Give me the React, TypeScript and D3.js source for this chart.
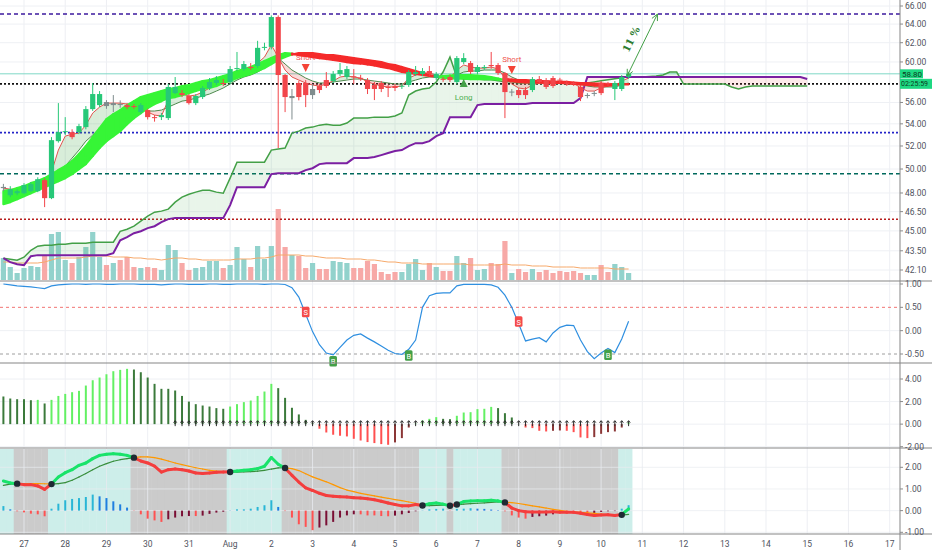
import React from "react";
import * as d3 from "d3";

// 4h candles, Jul 26 12:00 .. Aug 10 16:00
const dayLabels = ["27", "28", "29", "30", "31", "Aug", "2", "3", "4", "5", "6", "7", "8", "9", "10", "11", "12", "13", "14", "15", "16", "17"];
const priceTicks = [66, 64, 62, 60, 56, 54, 52, 50, 48, 46.5, 45, 43.5, 42.1];
const oscTicks = [1, 0.5, 0, -0.5];
const histTicks = [4, 2, 0, -2];
const macdTicks = [2, 1, 0, -1];

const opens = [
  48.4, 47.82, 47.98, 47.98, 48.15, 48.15, 49.06, 47.58, 52.43, 53.24,
  53.24, 53.24, 53.7, 55.37, 55.75, 56.04, 55.75, 55.85, 55.75, 55.66,
  55.09, 55.28, 54.62, 54.62, 54.53, 56.9, 56.9, 56.62, 55.94, 56.52,
  57.4, 57.89, 57.89, 57.99, 59.28, 59.28, 59.49, 59.59, 61.46, 61.56,
  64.77, 58.68, 56.42, 57.89, 57.89, 56.71, 57.59, 58.18, 58.08, 58.78,
  58.48, 58.55, 58.4, 58.18, 57.69, 57.89, 57.5, 57.59, 57.55, 57.69,
  58.78, 58.78, 59.08, 58.38, 58.3, 58.48, 57.99, 59.99, 59.89, 58.98,
  59.38, 59.69, 59.69, 58.88, 57.0, 57.2, 57.2, 57.2, 58.28, 58.18,
  58.38, 58.22, 57.92, 57.9, 57.5, 56.7, 56.88, 57.89, 57.9, 57.3,
  57.3, 58.5,
];
const highs = [
  48.75, 48.56, 48.31, 48.81, 48.9, 49.3, 49.22, 52.79, 55.94, 54.62,
  53.5, 54.0, 55.66, 57.89, 57.1, 56.23, 56.71, 56.2, 55.94, 55.85,
  55.94, 55.4, 54.81, 55.0, 57.8, 58.48, 57.2, 56.81, 56.81, 57.59,
  58.38, 58.58, 58.28, 59.59, 61.03, 60.1, 59.89, 62.2, 62.0, 64.95,
  64.95, 58.78, 57.3, 58.1, 58.18, 57.79, 57.79, 58.98, 59.08, 59.89,
  59.59, 59.28, 58.7, 58.38, 57.99, 58.08, 57.69, 57.79, 57.79, 59.18,
  59.59, 59.38, 59.59, 58.98, 58.48, 58.68, 60.61, 60.91, 60.1, 59.69,
  59.69, 61.03, 59.89, 58.98, 57.3, 57.4, 57.5, 58.48, 58.58, 58.38,
  58.58, 58.4, 58.1, 58.0, 57.69, 56.9, 57.1, 58.08, 58.0, 58.08,
  58.68, 59.0,
];
const lows = [
  48.15, 47.66, 47.82, 47.9, 48.07, 48.07, 46.86, 47.5, 52.3, 52.97,
  52.6, 53.06, 53.5, 55.2, 55.56, 55.4, 55.09, 55.5, 55.37, 55.4,
  54.9, 54.4, 54.2, 54.35, 54.35, 56.81, 56.52, 55.8, 55.75, 56.33,
  57.2, 57.69, 57.59, 57.79, 59.08, 59.1, 59.18, 59.4, 61.2, 61.3,
  51.82, 55.09, 54.4, 56.2, 55.56, 56.33, 56.9, 57.4, 57.89, 58.58,
  58.28, 57.79, 58.1, 56.81, 56.23, 57.0, 56.52, 57.1, 57.3, 57.5,
  58.58, 58.58, 58.58, 58.18, 58.0, 57.99, 57.79, 59.79, 58.78, 58.78,
  59.18, 59.3, 58.68, 54.53, 56.6, 56.42, 56.33, 57.0, 57.79, 57.3,
  57.4, 57.9, 57.6, 57.6, 56.13, 56.4, 56.6, 56.71, 57.6, 56.23,
  57.1, 58.3,
];
const closes = [
  48.5, 48.31, 48.15, 48.65, 48.73, 49.14, 47.58, 52.52, 53.24, 53.33,
  52.79, 53.79, 55.37, 56.81, 56.81, 55.66, 55.94, 55.8, 55.56, 55.6,
  55.75, 54.62, 54.53, 54.81, 57.5, 57.5, 56.71, 55.94, 56.62, 57.4,
  57.99, 58.18, 57.79, 59.28, 59.38, 59.79, 59.38, 61.46, 61.56, 64.77,
  58.68, 56.52, 56.62, 56.52, 56.71, 57.3, 57.2, 57.59, 58.78, 59.18,
  59.28, 58.48, 58.36, 57.3, 57.3, 57.3, 57.4, 57.4, 57.62, 58.98,
  58.98, 59.08, 58.78, 58.78, 58.26, 58.18, 60.4, 60.4, 58.98, 59.49,
  59.49, 59.64, 58.88, 57.0, 57.05, 56.71, 56.71, 58.28, 57.99, 57.5,
  57.59, 58.15, 57.87, 57.82, 56.52, 56.72, 56.92, 56.9, 57.82, 57.89,
  58.48, 58.8,
];
const neutralCandles = [0, 15, 16, 17, 42, 45, 74, 85, 86];

const volumes = [
  22, 13, 7, 12, 14, 13, 24, 46, 48, 20,
  17, 23, 33, 48, 23, 15, 17, 20, 23, 13,
  12, 13, 12, 10, 35, 30, 17, 10, 12, 13,
  19, 19, 12, 15, 33, 21, 13, 34, 21, 34,
  71, 33, 25, 24, 12, 17, 11, 11, 19, 18,
  17, 12, 12, 19, 16, 8, 6, 8, 8, 16,
  21, 10, 17, 13, 9, 9, 24, 17, 22, 10,
  11, 17, 16, 39, 7, 11, 8, 11, 8, 10,
  7, 9, 8, 9, 7, 5, 5, 15, 8, 16,
  13, 7,
];
const volumeMa = [
  18, 18, 17, 17, 17, 17, 18, 20, 22, 22,
  22, 22, 23, 24, 24, 24, 23, 23, 23, 22,
  22, 21, 21, 20, 21, 22, 22, 21, 21, 20,
  20, 20, 20, 20, 21, 21, 21, 22, 22, 23,
  25, 25, 25, 25, 24, 24, 23, 22, 22, 22,
  21, 21, 21, 20, 20, 19, 18, 18, 17, 17,
  17, 16, 16, 16, 16, 16, 16, 16, 15, 15,
  15, 15, 15, 16, 15, 15, 15, 14, 14, 14,
  13, 13, 13, 13, 12, 12, 12, 12, 12, 11,
  11, 11,
];

// thick ribbon (two moving averages)
const ribbonFast = [
  48.15, 48.23, 48.4, 48.56, 48.81, 48.98, 49.23, 49.57, 49.91, 50.24,
  50.68, 51.29, 51.99, 52.79, 53.61, 54.44, 54.9, 55.28, 55.75, 56.13,
  56.52, 56.71, 56.9, 57.1, 57.3, 57.4, 57.59, 57.69, 57.89, 58.08,
  58.18, 58.38, 58.58, 58.78, 59.08, 59.28, 59.49, 59.79, 60.1, 60.4,
  60.71, 60.91, 60.86, 60.71, 60.61, 60.5, 60.4, 60.3, 60.2, 60.1,
  59.99, 59.89, 59.84, 59.74, 59.64, 59.49, 59.38, 59.18, 58.98, 58.88,
  58.78, 58.68, 58.58, 58.48, 58.58, 58.63, 58.68, 58.68, 58.68, 58.63,
  58.58, 58.48, 58.33, 58.18, 58.08, 57.99, 57.94, 57.94, 57.94, 57.89,
  57.89, 57.89, 57.84, 57.79, 57.74, 57.69, 57.64, 57.64, 57.64, 57.69,
  57.74, 57.76,
];
const ribbonSlow = [
  47.1, 47.26, 47.5, 47.74, 47.98, 48.23, 48.48, 48.73, 48.98, 49.23,
  49.57, 49.99, 50.42, 51.12, 51.82, 52.43, 52.88, 53.33, 53.97, 54.53,
  55.0, 55.47, 55.85, 56.13, 56.42, 56.52, 56.71, 56.9, 57.1, 57.3,
  57.4, 57.59, 57.89, 58.08, 58.38, 58.58, 58.78, 59.08, 59.38, 59.79,
  60.2, 60.5, 60.76, 60.91, 60.91, 60.91, 60.81, 60.71, 60.71, 60.61,
  60.5, 60.4, 60.3, 60.2, 60.1, 59.99, 59.79, 59.69, 59.49, 59.28,
  59.08, 58.88, 58.68, 58.53, 58.38, 58.38, 58.33, 58.33, 58.28, 58.28,
  58.28, 58.28, 58.23, 58.28, 58.23, 58.18, 58.18, 58.13, 58.08, 58.08,
  58.03, 57.99, 57.99, 57.94, 57.89, 57.89, 57.84, 57.84, 57.79, 57.79,
  57.79, 57.79,
];

// thin moving averages hugging the candles
const emaFast = [
  48.4, 48.31, 48.31, 48.48, 48.56, 48.81, 48.65, 49.74, 51.64, 52.88,
  53.06, 53.15, 53.88, 55.0, 55.56, 55.94, 55.94, 55.94, 55.85, 55.75,
  55.47, 55.09, 54.81, 54.72, 56.23, 56.9, 56.81, 56.62, 56.71, 57.0,
  57.4, 57.69, 57.89, 58.48, 58.78, 59.08, 59.18, 59.89, 60.5, 61.76,
  60.5, 59.18, 58.48, 58.18, 57.89, 57.69, 57.59, 57.79, 58.08, 58.48,
  58.58, 58.48, 58.38, 57.99, 57.79, 57.59, 57.5, 57.5, 57.59, 58.38,
  58.68, 58.88, 58.88, 58.68, 58.48, 58.38, 59.18, 59.69, 59.49, 59.38,
  59.38, 59.49, 59.28, 58.38, 57.79, 57.4, 57.3, 57.69, 57.89, 57.79,
  57.89, 57.99, 57.99, 57.89, 57.4, 57.1, 57.1, 57.4, 57.59, 57.59,
  58.08, 58.38,
];
const emaSlow = [
  48.23, 48.23, 48.23, 48.31, 48.4, 48.48, 48.56, 48.9, 49.48, 50.24,
  50.94, 51.64, 52.43, 52.97, 53.61, 54.16, 54.62, 55.0, 55.19, 55.28,
  55.28, 55.19, 55.19, 55.28, 55.56, 55.85, 56.13, 56.23, 56.42, 56.62,
  56.81, 57.1, 57.4, 57.79, 58.18, 58.48, 58.68, 58.98, 59.38, 60.2,
  60.4, 59.79, 59.18, 58.78, 58.38, 58.08, 57.89, 57.89, 57.99, 58.08,
  58.18, 58.28, 58.28, 58.18, 58.08, 57.99, 57.89, 57.79, 57.79, 57.99,
  58.18, 58.38, 58.48, 58.48, 58.48, 58.48, 58.68, 58.98, 59.08, 59.08,
  59.18, 59.18, 59.18, 58.88, 58.48, 58.18, 57.99, 57.89, 57.89, 57.89,
  57.89, 57.89, 57.89, 57.89, 57.79, 57.59, 57.5, 57.5, 57.5, 57.5,
  57.69, 57.89,
];

// cloud spans, already shifted 26 bars forward (118 points)
const spanA = [
  42.96, 42.88, 42.81, 43.03, 43.54, 43.84, 43.92, 43.92, 43.99, 43.99,
  44.07, 44.07, 44.07, 44.14, 44.14, 44.14, 44.14, 44.97, 45.13, 45.36,
  45.75, 46.14, 46.46, 46.54, 46.7, 47.26, 47.66, 47.9, 48.07, 48.23,
  48.23, 48.07, 47.98, 49.23, 50.59, 50.59, 50.59, 50.59, 50.59, 51.64,
  51.73, 51.82, 53.15, 53.33, 53.61, 53.7, 53.88, 53.97, 53.88, 53.88,
  54.07, 54.53, 54.53, 54.53, 54.62, 54.62, 54.62, 54.72, 55.0, 56.71,
  57.1, 57.3, 57.4, 57.99, 58.98, 60.5, 58.48, 58.28, 58.28, 58.28,
  58.2, 58.2, 58.1, 58.0, 58.0, 57.9, 57.9, 57.9, 57.95, 57.95,
  57.9, 57.9, 57.85, 57.85, 57.85, 57.9, 58.0, 58.1, 58.2, 58.3,
  58.4, 58.5, 58.48, 58.48, 58.53, 58.58, 58.68, 58.98, 58.98, 57.79,
  57.79, 57.79, 57.79, 57.79, 57.79, 57.79, 57.5, 57.3, 57.5, 57.59,
  57.59, 57.59, 57.59, 57.59, 57.59, 57.59, 57.59, 57.59,
];
const spanB = [
  42.96, 42.67, 42.52, 42.45, 43.1, 43.18, 43.18, 43.18, 43.18, 43.18,
  43.18, 43.18, 43.18, 43.18, 43.18, 43.18, 43.32, 44.29, 44.52, 44.82,
  44.97, 45.21, 45.36, 45.67, 45.91, 45.99, 45.99, 45.99, 45.99, 45.99,
  45.99, 45.99, 45.99, 47.02, 48.48, 48.48, 48.48, 48.48, 48.48, 49.57,
  49.65, 49.65, 49.65, 49.65, 49.91, 50.07, 50.42, 50.5, 50.5, 50.5,
  50.5, 50.94, 50.94, 50.94, 51.03, 51.2, 51.38, 51.55, 51.64, 51.99,
  52.25, 52.25, 52.43, 52.88, 53.15, 54.62, 54.62, 54.62, 54.62, 55.75,
  55.85, 55.85, 55.85, 55.85, 55.85, 55.85, 55.85, 55.94, 55.94, 55.94,
  55.94, 55.94, 55.94, 55.94, 56.42, 58.48, 58.48, 58.48, 58.48, 58.48,
  58.48, 58.48, 58.48, 58.48, 58.48, 58.48, 58.48, 58.48, 58.48, 58.48,
  58.48, 58.48, 58.48, 58.48, 58.48, 58.48, 58.48, 58.48, 58.48, 58.48,
  58.48, 58.48, 58.48, 58.48, 58.48, 58.48, 58.48, 58.28,
];

// horizontal levels
const levelPrices = [65.1, 57.8, 53.2, 49.6, 45.9];
const levelColors = ["#3d1a9e", "#111111", "#2424c8", "#00695c", "#b71c1c"];
const levelDashes = ["4,3", "2,2", "2,2", "4,3", "2,2"];
const lastPrice = 58.8;
const countdown = "02:25:59";

const shortSignals = [44, 74];
const shortPrices = [59.28, 59.08];
const longSignals = [67];
const longPrices = [57.89];
const moveFrom = { i: 90.8, p: 58.6 };
const moveTo = { i: 95.2, p: 65.1 };
const moveLabel = "11 %";

// oscillator (range -0.5..1)
const oscValues = [
  1.0, 0.98, 0.96, 0.95, 0.94, 0.92, 0.9, 0.96, 0.98, 0.99,
  1.0, 1.0, 0.99, 1.0, 1.0, 0.99, 0.99, 1.0, 1.0, 1.0,
  0.99, 0.99, 0.99, 0.98, 0.99, 1.0, 1.0, 0.99, 0.99, 0.99,
  1.0, 1.0, 0.99, 0.99, 1.0, 1.0, 1.0, 1.0, 0.99, 1.0,
  1.0, 0.99, 0.92, 0.72, 0.35, -0.02, -0.3, -0.48, -0.52, -0.36,
  -0.2, -0.1, -0.07, -0.16, -0.24, -0.33, -0.42, -0.49, -0.51, -0.4,
  -0.2, 0.5, 0.75, 0.8, 0.81, 0.81, 0.96, 0.99, 0.99, 0.99,
  0.99, 0.98, 0.93, 0.76, 0.5, 0.15, -0.22, -0.18, -0.15, -0.24,
  -0.05, 0.07, 0.12, 0.11, -0.2, -0.45, -0.6, -0.48, -0.38, -0.47,
  -0.18, 0.2,
];
const sellMarks = [44, 75];
const buyMarks = [48, 59, 88];

// momentum histogram
const momentum = [
  2.45, 2.27, 2.21, 2.21, 2.12, 2.15, 1.83, 2.15, 2.5, 2.68,
  2.83, 2.95, 3.42, 3.89, 4.13, 4.42, 4.69, 4.81, 4.9, 4.84,
  4.6, 4.13, 3.57, 3.13, 3.13, 2.98, 2.5, 2.0, 1.77, 1.65,
  1.56, 1.42, 1.36, 1.56, 1.77, 1.95, 2.09, 2.5, 2.89, 3.57,
  3.19, 2.33, 1.45, 0.86, 0.38, 0.09, -0.41, -0.74, -0.94, -1.03,
  -1.09, -1.3, -1.45, -1.59, -1.68, -1.77, -1.83, -1.62, -1.24, -0.3,
  0.05, 0.32, 0.47, 0.62, 0.47, 0.44, 0.74, 1.03, 1.06, 1.33,
  1.36, 1.53, 1.42, 0.97, 0.59, 0.02, -0.3, -0.35, -0.59, -0.65,
  -0.59, -0.56, -0.59, -0.71, -1.18, -1.24, -1.15, -0.86, -0.71, -0.65,
  -0.3, 0.15,
];

// MACD
const macdLine = [
  1.37, 1.28, 1.24, 1.2, 1.2, 1.14, 0.98, 1.23, 1.55, 1.75,
  1.89, 2.09, 2.2, 2.4, 2.55, 2.6, 2.63, 2.6, 2.55, 2.44,
  2.29, 2.2, 2.05, 1.78, 1.89, 1.92, 1.89, 1.83, 1.74, 1.71,
  1.74, 1.77, 1.78, 1.79, 1.83, 1.86, 1.89, 1.94, 2.05, 2.45,
  2.14, 1.96, 1.63, 1.32, 1.05, 0.93, 0.8, 0.7, 0.66, 0.64,
  0.63, 0.6, 0.58, 0.55, 0.5, 0.43, 0.35, 0.28, 0.22, 0.22,
  0.28, 0.24, 0.32, 0.35, 0.3, 0.22, 0.29, 0.42, 0.45, 0.46,
  0.46, 0.48, 0.45, 0.37, 0.12, 0.0, -0.05, -0.06, -0.06, -0.06,
  -0.05, -0.07, -0.08, -0.08, -0.12, -0.18, -0.22, -0.2, -0.19, -0.22,
  -0.18, 0.08,
];
const signalLine = [
  1.17, 1.22, 1.25, 1.25, 1.25, 1.25, 1.24, 1.22, 1.25, 1.29,
  1.4, 1.55, 1.71, 1.89, 2.05, 2.17, 2.28, 2.35, 2.4, 2.45,
  2.48, 2.48, 2.45, 2.38, 2.29, 2.2, 2.12, 2.05, 1.98, 1.92,
  1.86, 1.82, 1.8, 1.78, 1.78, 1.79, 1.8, 1.82, 1.86, 1.92,
  1.97, 1.98, 1.94, 1.85, 1.7, 1.56, 1.44, 1.33, 1.2, 1.06,
  0.95, 0.88, 0.8, 0.74, 0.68, 0.62, 0.57, 0.51, 0.46, 0.4,
  0.34, 0.23, 0.23, 0.24, 0.25, 0.23, 0.27, 0.3, 0.32, 0.34,
  0.36, 0.38, 0.4, 0.39, 0.37, 0.33, 0.28, 0.22, 0.17, 0.12,
  0.06, 0.01, -0.03, -0.06, -0.08, -0.1, -0.13, -0.16, -0.18, -0.2,
  -0.21, -0.17,
];
const macdHist = [
  0.21, 0.06, -0.03, -0.08, -0.14, -0.17, -0.26, 0.09, 0.32, 0.48,
  0.54, 0.58, 0.63, 0.74, 0.66, 0.58, 0.43, 0.29, 0.14, -0.01,
  -0.17, -0.37, -0.45, -0.52, -0.4, -0.32, -0.26, -0.25, -0.25, -0.23,
  -0.15, -0.09, -0.05, 0.01, 0.06, 0.06, 0.09, 0.17, 0.25, 0.48,
  0.17, -0.02, -0.32, -0.63, -0.75, -0.9, -0.78, -0.68, -0.52, -0.32,
  -0.22, -0.17, -0.17, -0.22, -0.22, -0.25, -0.26, -0.23, -0.17, -0.11,
  -0.03, 0.01, 0.06, 0.08, 0.09, -0.01, 0.08, 0.09, 0.11, 0.09,
  0.08, 0.05, 0.02, -0.03, -0.22, -0.32, -0.37, -0.29, -0.26, -0.23,
  -0.17, -0.09, -0.09, -0.09, -0.11, -0.14, -0.11, -0.06, -0.03, -0.02,
  0.09, 0.25,
];

const W = 932;
const H = 550;
const AX = 900;
const FONT = "Roboto, 'DejaVu Sans', sans-serif";
const SEPS = [281, 363, 448, 534];

const x = d3.scaleLinear().domain([0, 91]).range([3.4, 628.6]);
const step = x(1) - x(0);
const yP = d3.scaleLog().domain([42.1, 66]).range([270, 6]);
const yV = d3.scaleLinear().domain([0, 71]).range([280, 209]);
const yO = d3.scaleLinear().domain([-0.5, 1]).range([354, 284]);
const yH = d3.scaleLinear().domain([-2, 4]).range([446.7, 379]);
const yM = d3.scaleLinear().domain([-1, 2]).range([532.3, 467.3]);

const line = (arr: number[], y: (v: number) => number) =>
  d3.line<number>().x((_, i) => x(i)).y((d) => y(d))(arr) ?? "";

function band(a: number[], b: number[], y: (v: number) => number, up: string, down: string, stroke = 0) {
  const out: React.ReactNode[] = [];
  for (let i = 0; i < a.length - 1; i++) {
    const isUp = a[i] + a[i + 1] >= b[i] + b[i + 1];
    const c = isUp ? up : down;
    const d = `M${x(i)},${y(a[i])}L${x(i + 1)},${y(a[i + 1])}L${x(i + 1)},${y(b[i + 1])}L${x(i)},${y(b[i])}Z`;
    out.push(
      <path key={i} d={d} fill={c} stroke={stroke ? c : "none"} strokeWidth={stroke} strokeLinejoin="round" />
    );
  }
  return out;
}

function axisLabels(ticks: number[], y: (v: number) => number, fmt = (v: number) => v.toFixed(2)) {
  return ticks.map((t) => (
    <g key={t}>
      <line x1={AX} x2={AX + 3} y1={y(t)} y2={y(t)} stroke="#8a8a8a" />
      <text x={AX + 5} y={y(t) + 3} fontSize={8.5} fill="#50535e">
        {fmt(t)}
      </text>
    </g>
  ));
}

export default function App() {
  const dayIdx = dayLabels.map((_, k) => 3 + 6 * k);
  const isBull = (i: number) => closes[i] >= opens[i];
  const candleColor = (i: number) =>
    neutralCandles.includes(i) ? "#7f8c8d" : isBull(i) ? "#27c878" : "#f2454a";
  const state = macdLine.map((m, i) => m > signalLine[i]);

  const a0 = { x: x(moveFrom.i), y: yP(moveFrom.p) };
  const a1 = { x: x(moveTo.i), y: yP(moveTo.p) };
  const ang = Math.atan2(a1.y - a0.y, a1.x - a0.x);
  const head = (px: number, py: number, dir: number) => {
    const l = 7;
    const s = 0.45;
    return `M${px - l * Math.cos(dir - s)},${py - l * Math.sin(dir - s)}L${px},${py}L${px - l * Math.cos(dir + s)},${py - l * Math.sin(dir + s)}`;
  };
  const mid = { x: (a0.x + a1.x) / 2 - 8, y: (a0.y + a1.y) / 2 - 4 };

  return (
    <svg
      width={W}
      height={H}
      viewBox={`0 0 ${W} ${H}`}
      style={{ position: "absolute", left: 0, top: 0, background: "#fff", fontFamily: FONT }}
    >
      <defs>
        <clipPath id="cMain">
          <rect x={0} y={0} width={AX} height={280.5} />
        </clipPath>
        <clipPath id="cOsc">
          <rect x={0} y={281.5} width={AX} height={81} />
        </clipPath>
      </defs>

      {/* MACD background states */}
      {state.map((s, i) => (
        <rect
          key={i}
          x={x(i) - step / 2}
          y={449}
          width={step + 0.4}
          height={85}
          fill={s ? "#cdeeea" : "#cbcbcb"}
        />
      ))}

      {/* grid */}
      {dayIdx.map((i) => (
        <line key={i} x1={x(i)} x2={x(i)} y1={0} y2={534} stroke="#e8ebf0" strokeOpacity={0.8} />
      ))}
      {priceTicks.map((t) => (
        <line key={t} x1={0} x2={AX} y1={yP(t)} y2={yP(t)} stroke="#eef0f4" />
      ))}
      {[1, 0].map((t) => (
        <line key={t} x1={0} x2={AX} y1={yO(t)} y2={yO(t)} stroke="#eef0f4" />
      ))}
      {histTicks.map((t) => (
        <line key={t} x1={0} x2={AX} y1={yH(t)} y2={yH(t)} stroke="#eef0f4" />
      ))}
      {macdTicks.map((t) => (
        <line key={t} x1={0} x2={AX} y1={yM(t)} y2={yM(t)} stroke="#e8ebf0" strokeOpacity={0.7} />
      ))}

      {/* main panel */}
      <g clipPath="url(#cMain)">
        {volumes.map((v, i) => (
          <rect
            key={i}
            x={x(i) - 2.6}
            y={yV(v)}
            width={5.2}
            height={yV(0) - yV(v)}
            fill={isBull(i) ? "#92d2cc" : "#f7a9a7"}
          />
        ))}
        <path d={line(volumeMa, yV)} fill="none" stroke="#f6a96b" strokeWidth={1} />

        {levelPrices.map((p, k) => (
          <line
            key={p}
            x1={0}
            x2={AX}
            y1={yP(p)}
            y2={yP(p)}
            stroke={levelColors[k]}
            strokeWidth={1.6}
            strokeDasharray={levelDashes[k]}
          />
        ))}
        <line x1={0} x2={AX} y1={yP(lastPrice)} y2={yP(lastPrice)} stroke="#7fd8c6" strokeWidth={1} />

        {band(spanA, spanB, yP, "rgba(76,175,80,0.12)", "rgba(239,83,80,0.12)")}
        <path d={line(spanA, yP)} fill="none" stroke="#43a047" strokeWidth={1.5} />
        <path d={line(spanB, yP)} fill="none" stroke="#7b1fa2" strokeWidth={2} />

        {band(emaFast, emaSlow, yP, "rgba(76,175,80,0.22)", "rgba(239,83,80,0.22)")}
        <path d={line(emaSlow, yP)} fill="none" stroke="#4e8a4e" strokeWidth={1} />
        <path d={line(emaFast, yP)} fill="none" stroke="#e0554f" strokeWidth={1} />

        {shortSignals.map((i, k) => (
          <g key={i}>
            <text x={x(i)} y={yP(shortPrices[k]) - 9} fontSize={8} fill="#ef5350" textAnchor="middle">
              Short
            </text>
          </g>
        ))}

        {band(ribbonFast, ribbonSlow, yP, "#36f536", "#f52a2a", 2.2)}

        {opens.map((o, i) => {
          const c = closes[i];
          const col = candleColor(i);
          const top = yP(Math.max(o, c));
          const bot = yP(Math.min(o, c));
          return (
            <g key={i}>
              <line x1={x(i)} x2={x(i)} y1={yP(highs[i])} y2={yP(lows[i])} stroke={col} strokeWidth={1} />
              <rect x={x(i) - 2.6} y={top} width={5.2} height={Math.max(1, bot - top)} fill={col} />
            </g>
          );
        })}

        {shortSignals.map((i, k) => {
          const y = yP(shortPrices[k]);
          return <path key={i} d={`M${x(i) - 4},${y - 5}L${x(i) + 4},${y - 5}L${x(i)},${y + 3}Z`} fill="#f44336" />;
        })}
        {longSignals.map((i, k) => {
          const y = yP(longPrices[k]);
          return (
            <g key={i}>
              <path d={`M${x(i) - 4},${y + 4}L${x(i) + 4},${y + 4}L${x(i)},${y - 4}Z`} fill="#43a047" />
              <text x={x(i)} y={y + 17} fontSize={8} fill="#4caf50" textAnchor="middle">
                Long
              </text>
            </g>
          );
        })}

        <line x1={a0.x} y1={a0.y} x2={a1.x} y2={a1.y} stroke="#43a047" strokeWidth={1} />
        <path d={head(a1.x, a1.y, ang)} fill="none" stroke="#43a047" strokeWidth={1} />
        <path d={head(a0.x, a0.y, ang + Math.PI)} fill="none" stroke="#43a047" strokeWidth={1} />
        <text
          transform={`translate(${mid.x},${mid.y}) rotate(${(ang * 180) / Math.PI})`}
          fontSize={10}
          fontWeight="bold"
          fill="#2e7d32"
          textAnchor="middle"
          fontFamily="'DejaVu Serif', serif"
        >
          {moveLabel}
        </text>
      </g>

      {/* oscillator panel */}
      <line x1={0} x2={AX} y1={yO(0.5)} y2={yO(0.5)} stroke="#ef5350" strokeDasharray="3,3" strokeOpacity={0.8} />
      <line x1={0} x2={AX} y1={yO(-0.5)} y2={yO(-0.5)} stroke="#9e9e9e" strokeDasharray="3,3" />
      <g clipPath="url(#cOsc)">
        <path d={line(oscValues, yO)} fill="none" stroke="#2f8fe0" strokeWidth={1.2} />
      </g>
      {sellMarks.map((i) => {
        const y = yO(oscValues[i]) - 2;
        return (
          <g key={i}>
            <rect x={x(i) - 3.8} y={y - 5.5} width={7.6} height={10.5} rx={1.5} fill="#f44a4a" />
            <text x={x(i)} y={y + 3} fontSize={7.5} fill="#fff" textAnchor="middle">
              S
            </text>
          </g>
        );
      })}
      {buyMarks.map((i) => {
        const y = yO(oscValues[i]) + 1;
        return (
          <g key={i}>
            <rect x={x(i) - 3.8} y={y} width={7.6} height={10.5} rx={1.5} fill="#43a047" />
            <text x={x(i)} y={y + 8.5} fontSize={7.5} fill="#fff" textAnchor="middle">
              B
            </text>
          </g>
        );
      })}

      {/* momentum histogram */}
      {momentum.map((v, i) => {
        const prev = i > 0 ? momentum[i - 1] : v;
        const col = v >= 0 ? (v > prev ? "#63f063" : "#3b7a3b") : v < prev ? "#ff5050" : "#8b3636";
        return (
          <line key={i} x1={x(i)} x2={x(i)} y1={yH(0)} y2={yH(v)} stroke={col} strokeWidth={2} />
        );
      })}
      {momentum.map((_, i) =>
        i >= 25 ? (
          <path
            key={i}
            d={`M${x(i)},${yH(0) + 2}L${x(i)},${yH(0) - 3}M${x(i) - 1.6},${yH(0) - 1.5}L${x(i)},${yH(0) - 3.5}L${x(i) + 1.6},${yH(0) - 1.5}`}
            stroke="#2a2a2a"
            strokeWidth={1}
            fill="none"
          />
        ) : null
      )}

      {/* MACD panel */}
      {macdHist.map((v, i) => {
        const prev = i > 0 ? macdHist[i - 1] : v;
        const col = v >= 0 ? (v >= prev ? "#29b6d6" : "#1e7fe0") : v <= prev ? "#ff5252" : "#7a0f35";
        return (
          <line key={i} x1={x(i)} x2={x(i)} y1={yM(0)} y2={yM(v)} stroke={col} strokeWidth={2} />
        );
      })}
      {signalLine.slice(0, -1).map((s, i) => (
        <line
          key={i}
          x1={x(i)}
          x2={x(i + 1)}
          y1={yM(s)}
          y2={yM(signalLine[i + 1])}
          stroke={state[i] ? "#388e3c" : "#ff9800"}
          strokeWidth={1.2}
          strokeLinecap="round"
        />
      ))}
      {macdLine.slice(0, -1).map((m, i) => (
        <line
          key={i}
          x1={x(i)}
          x2={x(i + 1)}
          y1={yM(m)}
          y2={yM(macdLine[i + 1])}
          stroke={state[i] ? "#19e36a" : "#f43d3d"}
          strokeWidth={3}
          strokeLinecap="round"
        />
      ))}
      {state.map((s, i) =>
        i > 0 && s !== state[i - 1] ? (
          <circle key={i} cx={x(i)} cy={yM((macdLine[i] + signalLine[i]) / 2)} r={3.2} fill="#1f2a33" />
        ) : null
      )}

      {/* separators and right axis */}
      {SEPS.map((y) => (
        <line key={y} x1={0} x2={W} y1={y} y2={y} stroke="#858585" strokeWidth={1.2} />
      ))}
      <line x1={AX} x2={AX} y1={0} y2={H} stroke="#858585" strokeWidth={1} />

      {axisLabels(priceTicks, yP)}
      {axisLabels(oscTicks, yO)}
      {axisLabels(histTicks, yH)}
      {axisLabels(macdTicks, yM)}

      <rect x={AX} y={yP(lastPrice) - 4.5} width={23} height={9} fill="#1ed882" />
      <text x={AX + 2} y={yP(lastPrice) + 3} fontSize={8} fill="#0c3b22">
        {lastPrice.toFixed(2)}
      </text>
      <rect x={AX} y={yP(lastPrice) + 5} width={32} height={10} fill="#1ed882" />
      <text x={AX + 1} y={yP(lastPrice) + 12.5} fontSize={7} fill="#0c3b22">
        {countdown}
      </text>

      {/* time axis */}
      {dayIdx.map((i, k) => (
        <text key={i} x={x(i)} y={547} fontSize={8.5} fill="#50535e" textAnchor="middle">
          {dayLabels[k]}
        </text>
      ))}
    </svg>
  );
}
